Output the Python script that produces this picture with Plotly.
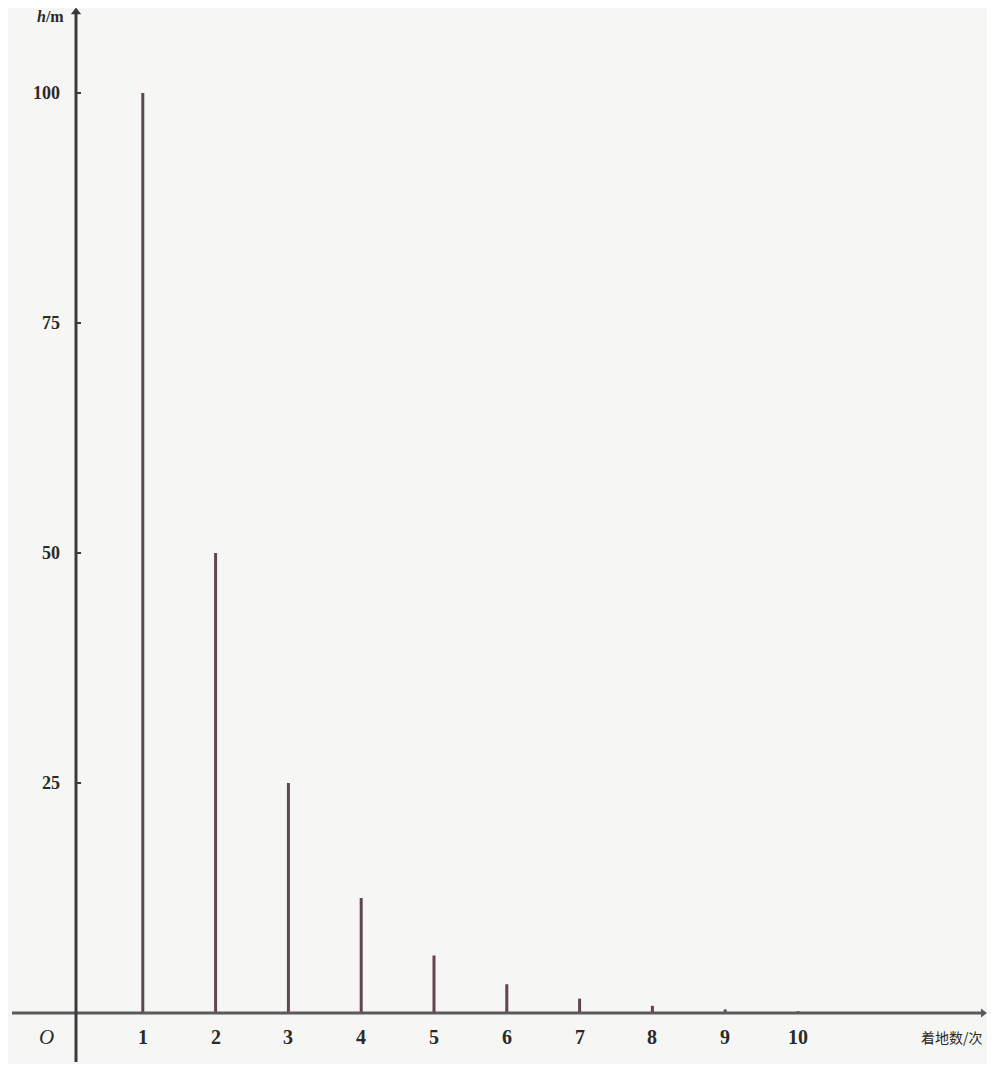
import plotly.graph_objects as go

# data
bounces = [1, 2, 3, 4, 5, 6, 7, 8, 9, 10]
heights = [100, 50, 25, 12.5, 6.25, 3.125, 1.5625, 0.78, 0.39, 0.2]
x_ticks = [1, 2, 3, 4, 5, 6, 7, 8, 9, 10]
y_ticks = [25, 50, 75, 100]
x_title = "着地数/次"
y_title = "h/m"

OFF = 8                 # page body margin
W, H = 995 - 2 * OFF, 1072 - 2 * OFF
px_x = 72.8             # pixels per x unit
x0_px = 70 - OFF        # pixel position of x = 0 inside figure
px_y = 9.2              # pixels per y unit
y0_px = 1013 - OFF      # pixel position of y = 0 inside figure

xr = [-x0_px / px_x, (W - x0_px) / px_x]
yr = [-(H - y0_px) / px_y, y0_px / px_y]

fig = go.Figure()

# stems
xs, ys = [], []
for b, h in zip(bounces, heights):
    xs += [b, b, None]
    ys += [0, h, None]
fig.add_trace(go.Scatter(x=xs, y=ys, mode="lines",
                         line=dict(color="#5e4652", width=3),
                         hoverinfo="skip", showlegend=False))

axis_col = "#5a5a5a"
yaxis_x = 6 / px_x
# x axis line
fig.add_shape(type="line", x0=xr[0] + 4 / px_x, x1=xr[1] - 4 / px_x, y0=0, y1=0,
              line=dict(color=axis_col, width=3))
# y axis line
fig.add_shape(type="line", x0=yaxis_x, x1=yaxis_x, y0=yr[0] + 2 / px_y, y1=yr[1] - 4 / px_y,
              line=dict(color="#3a3a3a", width=3))
# arrows
fig.add_trace(go.Scatter(x=[yaxis_x], y=[yr[1] - 4 / px_y], mode="markers",
                         marker=dict(symbol="triangle-up", size=9, color="#3a3a3a"),
                         hoverinfo="skip", showlegend=False))
fig.add_trace(go.Scatter(x=[xr[1] - 4 / px_x], y=[0], mode="markers",
                         marker=dict(symbol="triangle-right", size=8, color=axis_col),
                         hoverinfo="skip", showlegend=False))

font = dict(family="Liberation Serif", size=20, color="#2a2a2a")

# x tick labels
for t in x_ticks:
    fig.add_annotation(x=t, y=-24 / px_y, text="<b>%d</b>" % t, showarrow=False,
                       font=font, xanchor="center", yanchor="middle")
# y tick labels
for t in y_ticks:
    fig.add_annotation(x=-8 / px_x, y=t, text="<b>%d</b>" % t, showarrow=False,
                       font=dict(family="Liberation Serif", size=18, color="#2a2a2a"),
                       xanchor="right", yanchor="middle")
    fig.add_shape(type="line", x0=yaxis_x, x1=yaxis_x + 5 / px_x, y0=t, y1=t,
                  line=dict(color="#3a3a3a", width=2))

# origin
fig.add_annotation(x=-14 / px_x, y=-24 / px_y, text="<i>O</i>", showarrow=False,
                   font=dict(family="Liberation Serif", size=21, color="#2a2a2a"),
                   xanchor="right", yanchor="middle")
# axis titles
fig.add_annotation(x=-4 / px_x, y=(y0_px - 8) / px_y, text="<b><i>h</i>/m</b>", showarrow=False,
                   font=dict(family="Liberation Serif", size=16, color="#2a2a2a"),
                   xanchor="right", yanchor="middle")
fig.add_annotation(x=xr[1] - 2 / px_x, y=-24 / px_y, text=x_title, showarrow=False,
                   font=dict(family="Noto Sans CJK SC", size=14, color="#2a2a2a"),
                   xanchor="right", yanchor="middle")

fig.update_xaxes(range=xr, visible=False, fixedrange=True)
fig.update_yaxes(range=yr, visible=False, fixedrange=True)
fig.update_layout(width=W, height=H, margin=dict(l=0, r=0, t=0, b=0),
                  paper_bgcolor="#f6f6f4", plot_bgcolor="#f6f6f4",
                  showlegend=False)

fig.write_html("out.html")
